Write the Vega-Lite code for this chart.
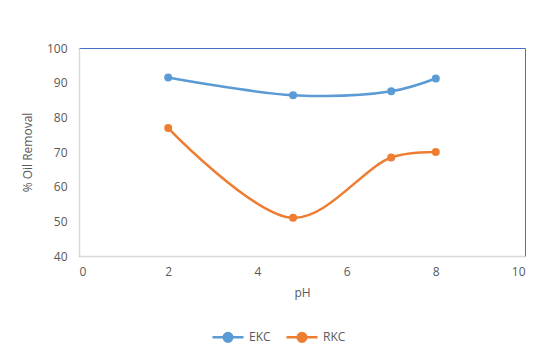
{
  "$schema": "https://vega.github.io/schema/vega-lite/v6.json",
  "width": 446,
  "height": 208,
  "autosize": {"type": "none"},
  "padding": {"left": 79, "top": 48, "right": 24, "bottom": 101},
  "background": "white",
  "config": {
    "view": {"stroke": "#4472C4", "strokeWidth": 1},
    "font": "Open Sans",
    "axis": {
      "labelColor": "#595959",
      "titleColor": "#595959",
      "labelFontSize": 12,
      "titleFontSize": 12,
      "titleFontWeight": "normal",
      "grid": false,
      "ticks": false,
      "domainColor": "#D9D9D9",
      "domainWidth": 1.5,
      "labelFont": "Open Sans",
      "titleFont": "Open Sans"
    },
    "legend": {"labelFont": "Open Sans", "labelColor": "#595959", "labelFontSize": 12}
  },
  "data": {
    "values": [
      {"pH": 2, "v": 91.5, "s": "EKC"},
      {"pH": 4.8, "v": 86.4, "s": "EKC"},
      {"pH": 7, "v": 87.5, "s": "EKC"},
      {"pH": 8, "v": 91.2, "s": "EKC"},
      {"pH": 2, "v": 76.9, "s": "RKC"},
      {"pH": 4.8, "v": 51.0, "s": "RKC"},
      {"pH": 7, "v": 68.4, "s": "RKC"},
      {"pH": 8, "v": 70.0, "s": "RKC"}
    ]
  },
  "mark": {"type": "line", "interpolate": "catmull-rom", "strokeWidth": 2.5, "point": {"size": 64, "filled": true, "opacity": 1}},
  "encoding": {
    "x": {
      "field": "pH", "type": "quantitative",
      "scale": {"domain": [0, 10], "nice": false},
      "axis": {"values": [0, 2, 4, 6, 8, 10], "title": "pH", "labelPadding": 10, "titlePadding": 10}
    },
    "y": {
      "field": "v", "type": "quantitative",
      "scale": {"domain": [40, 100], "nice": false},
      "axis": {"values": [40, 50, 60, 70, 80, 90, 100], "title": "% Oil Removal", "labelPadding": 12, "titlePadding": 12}
    },
    "color": {
      "field": "s", "type": "nominal",
      "scale": {"domain": ["EKC", "RKC"], "range": ["#5B9BD5", "#ED7D31"]},
      "legend": {
        "title": null,
        "orient": "none",
        "legendX": 132,
        "legendY": 272,
        "direction": "horizontal",
        "symbolType": "M-1,0L-0.28,0M0.28,0L1,0M-0.28,0A0.28,0.28 0 1,1 0.28,0A0.28,0.28 0 1,1 -0.28,0Z",
        "symbolSize": 960,
        "symbolStrokeWidth": 2.5,
        "labelOffset": 4,
        "columnPadding": 10
      }
    }
  }
}
